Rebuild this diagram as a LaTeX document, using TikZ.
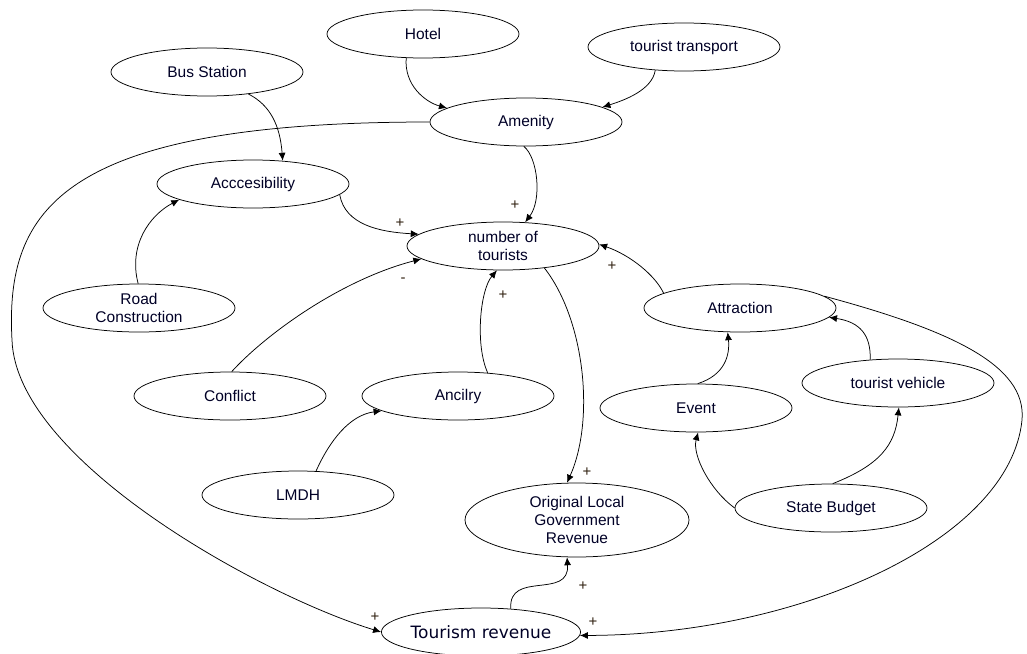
\documentclass[tikz,border=0pt]{standalone}
\usepackage{fontspec}
\setmainfont{Liberation Sans}
\newfontfamily\trfont{DejaVu Sans}
\usetikzlibrary{shapes.geometric,arrows.meta}
\begin{document}
\begin{tikzpicture}[x=1pt,y=-1pt,
  var/.style={ellipse, draw, line width=0.75pt, minimum width=192pt, minimum height=48pt,
    inner sep=0pt, font=\fontsize{15.5}{18}\selectfont, align=center, text=black!85!blue},
  link/.style={-{Latex[length=8pt,width=7pt]}, line width=0.75pt},
  sign/.style={font=\fontsize{15}{15}\selectfont, inner sep=0pt, text=black!75!brown}]
\useasboundingbox (0,0) rectangle (1027,653);
\node[var] (hotel) at (423,34) {Hotel};
\node[var] (tt) at (684,47) {tourist transport};
\node[var] (bus) at (207,72) {Bus Station};
\node[var] (amen) at (526,122) {Amenity};
\node[var] (acc) at (253,184) {Acccesibility};
\node[var] (num) at (503,246) {number of\\tourists};
\node[var] (road) at (139,308) {Road\\Construction};
\node[var] (attr) at (740,308) {Attraction};
\node[var] (conf) at (230,396) {Conflict};
\node[var] (anc) at (458,396) {Ancilry};
\node[var] (tv) at (898,383) {tourist vehicle};
\node[var] (event) at (696,408) {Event};
\node[var] (lmdh) at (298,495) {LMDH};
\node[var] (sb) at (831,508) {State Budget};
\node[var, minimum width=224pt, minimum height=74pt] (olgr) at (577,520) {Original Local\\Government\\Revenue};
\node[var, font=\trfont\fontsize{17}{20}\selectfont] (tr) at (481,632) {Tourism revenue};

\draw[link] (hotel.235) .. controls (404,85) and (425,102) .. (amen.170);
\draw[link] (tt.219) .. controls (652,90) and (625,100) .. (amen.11);
\draw[link] (bus.332) .. controls (270,105) and (280,125) .. (acc.38);
\draw[link] (amen.180) .. controls (60,122) and (5,210) .. (12,340)
  .. controls (16,460) and (260,595) .. (tr.180);
\draw[link] (amen.265) .. controls (538,158) and (542,200) .. (num.47);
\draw[link] (acc.353) .. controls (345,225) and (380,232) .. (num.172);
\draw[link] (road.92) .. controls (128,245) and (150,215) .. (acc.192);
\draw[link] (conf.86) .. controls (265,335) and (340,280) .. (num.189);
\draw[link] (anc.38) .. controls (475,345) and (480,290) .. (num.256);
\draw[link] (lmdh.53) .. controls (330,440) and (350,415) .. (anc.191);
\draw[link] (num.332) .. controls (585,320) and (595,420) .. (olgr.105);
\draw[link] (attr.169) .. controls (655,275) and (630,255) .. (num.1);
\draw[link] (event.86) .. controls (725,375) and (730,355) .. (attr.243);
\draw[link] (tv.140) .. controls (871,335) and (860,322) .. (attr.354);
\draw[link] (sb.180) .. controls (710,490) and (692,455) .. (event.275);
\draw[link] (sb.86) .. controls (880,465) and (895,445) .. (tv.272);
\draw[link] (tr.38) .. controls (508,570) and (570,600) .. (olgr.255);
\draw[link] (attr.8) .. controls (950,330) and (1027,365) .. (1022,420)
  .. controls (1010,540) and (800,635) .. (tr.358);

\node[sign] (s1) at (375,617) {+};
\node[sign] (s2) at (515,205) {+};
\node[sign] (s3) at (400,223) {+};
\node[sign] (s4) at (403,280) {-};
\node[sign] (s5) at (503,295) {+};
\node[sign] (s6) at (612,266) {+};
\node[sign] (s7) at (587,472) {+};
\node[sign] (s8) at (583,586) {+};
\node[sign] (s9) at (593,622) {+};
\end{tikzpicture}
\end{document}
